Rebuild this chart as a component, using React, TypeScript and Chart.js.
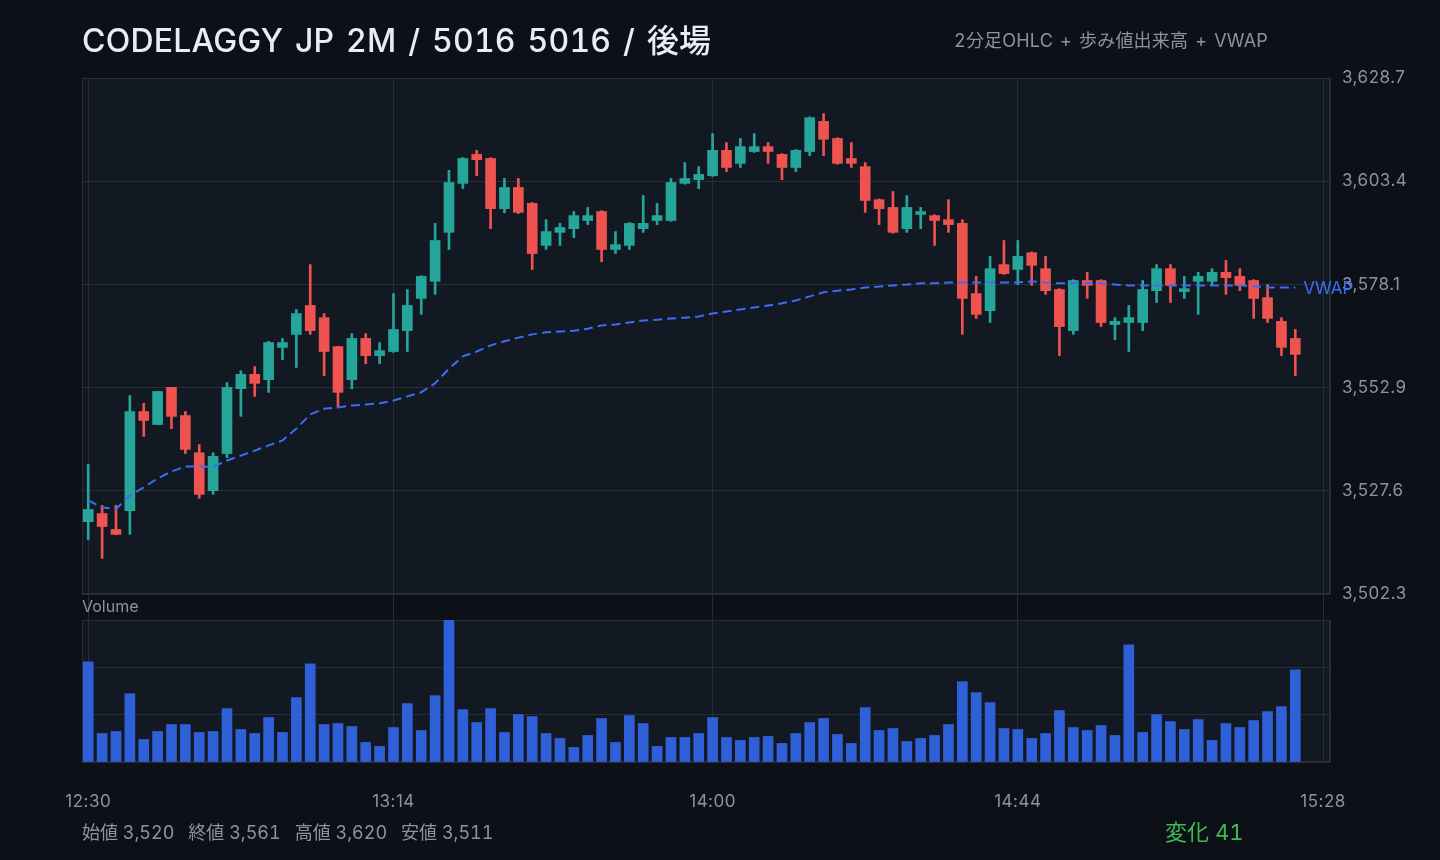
import React, { useEffect, useRef } from 'react';
import { Chart, registerables } from 'chart.js';

Chart.register(...registerables);

const TITLE = 'CODELAGGY JP 2M / 5016 5016 / 後場';
const SUBTITLE = '2分足OHLC + 歩み値出来高 + VWAP';
const VOLUME_LABEL = 'Volume';
const VWAP_LABEL = 'VWAP';
const STAT_NAMES = ['始値', '終値', '高値', '安値'];
const CHANGE_NAME = '変化';

const tickIndex = [0, 22, 45, 67, 89];
const tickLabels = ['12:30', '13:14', '14:00', '14:44', '15:28'];

const opens = [3520.0, 3522.0, 3518.1, 3522.7, 3547.0, 3543.8, 3552.9, 3546.0, 3536.9, 3527.6,
  3536.7, 3552.6, 3556.1, 3554.8, 3562.7, 3565.9, 3573.0, 3570.0, 3562.9, 3554.8,
  3564.9, 3560.7, 3561.7, 3566.8, 3574.7, 3578.9, 3590.9, 3602.9, 3610.0, 3609.0,
  3596.7, 3601.9, 3598.0, 3587.7, 3590.9, 3591.8, 3593.8, 3596.0, 3586.7, 3587.7,
  3591.8, 3593.8, 3593.8, 3602.9, 3603.8, 3604.8, 3611.0, 3607.8, 3610.7, 3611.9,
  3610.0, 3606.8, 3610.7, 3618.1, 3613.9, 3609.0, 3607.0, 3598.9, 3597.0, 3591.8,
  3595.3, 3595.0, 3594.0, 3593.1, 3575.9, 3571.7, 3583.0, 3581.8, 3585.9, 3582.0,
  3576.9, 3566.8, 3579.1, 3579.1, 3568.3, 3568.8, 3568.8, 3576.6, 3582.0, 3576.4,
  3578.9, 3578.9, 3581.1, 3580.1, 3579.1, 3574.9, 3569.1, 3564.9];

const highs = [3534.0, 3524.0, 3524.0, 3550.9, 3549.0, 3551.9, 3552.9, 3547.0, 3538.9, 3536.9,
  3554.1, 3557.0, 3558.0, 3564.2, 3564.9, 3572.0, 3583.0, 3571.0, 3563.0, 3566.1,
  3566.1, 3563.9, 3575.9, 3576.9, 3580.3, 3593.1, 3606.1, 3609.2, 3611.0, 3609.2,
  3604.1, 3604.1, 3598.2, 3594.0, 3593.1, 3596.0, 3597.0, 3596.2, 3591.1, 3593.3,
  3599.9, 3598.0, 3604.1, 3608.0, 3607.0, 3615.1, 3612.9, 3613.9, 3615.1, 3612.9,
  3610.2, 3611.2, 3619.2, 3620.0, 3614.1, 3612.9, 3608.0, 3599.1, 3600.9, 3599.9,
  3597.0, 3595.2, 3598.9, 3594.0, 3580.1, 3585.0, 3588.9, 3588.9, 3586.1, 3585.0,
  3577.1, 3579.3, 3581.1, 3579.3, 3570.0, 3573.0, 3579.1, 3583.0, 3583.0, 3580.1,
  3581.1, 3582.0, 3584.0, 3582.0, 3579.3, 3578.1, 3570.0, 3567.1];

const lows = [3515.6, 3511.0, 3516.8, 3516.9, 3540.9, 3543.8, 3542.8, 3536.7, 3525.7, 3526.7,
  3535.7, 3545.8, 3550.7, 3551.7, 3559.7, 3557.8, 3565.9, 3555.8, 3548.0, 3552.6,
  3558.7, 3558.7, 3561.5, 3561.7, 3570.8, 3575.7, 3586.7, 3601.6, 3604.8, 3591.8,
  3595.7, 3595.5, 3581.8, 3586.7, 3587.7, 3589.6, 3592.8, 3583.7, 3585.7, 3586.7,
  3590.9, 3592.8, 3593.6, 3602.7, 3601.6, 3604.6, 3605.8, 3606.8, 3610.5, 3607.8,
  3603.8, 3605.8, 3609.7, 3609.7, 3607.6, 3606.8, 3595.8, 3592.8, 3590.7, 3590.9,
  3591.8, 3587.7, 3590.9, 3565.9, 3569.8, 3568.8, 3580.6, 3578.1, 3577.9, 3575.7,
  3560.7, 3565.9, 3574.7, 3567.8, 3564.6, 3561.7, 3566.8, 3573.7, 3573.7, 3574.7,
  3570.8, 3577.9, 3575.7, 3576.6, 3569.8, 3568.8, 3560.7, 3555.8];

const closes = [3523.0, 3518.8, 3516.9, 3547.0, 3544.8, 3551.9, 3545.8, 3537.7, 3526.7, 3536.0,
  3552.9, 3556.1, 3553.9, 3563.9, 3563.9, 3571.0, 3566.8, 3561.7, 3551.7, 3564.9,
  3560.7, 3561.9, 3567.1, 3573.0, 3580.1, 3588.9, 3603.1, 3609.0, 3608.7, 3596.7,
  3601.9, 3595.8, 3585.7, 3591.1, 3592.1, 3595.0, 3595.0, 3586.7, 3587.9, 3593.1,
  3593.1, 3595.0, 3603.1, 3604.1, 3605.1, 3611.0, 3606.8, 3611.9, 3611.9, 3610.7,
  3606.8, 3611.0, 3619.0, 3613.7, 3607.8, 3607.8, 3598.7, 3596.7, 3590.9, 3597.0,
  3596.0, 3593.8, 3592.8, 3574.7, 3570.8, 3582.0, 3580.8, 3585.0, 3582.8, 3576.6,
  3567.8, 3579.1, 3577.9, 3568.8, 3569.1, 3570.0, 3576.9, 3582.0, 3577.9, 3577.1,
  3580.1, 3581.1, 3579.8, 3577.9, 3574.7, 3569.8, 3562.7, 3561.0];

const volumes = [30200, 8600, 9200, 20600, 6800, 9200, 11300, 11300, 8900, 9200,
  16100, 9800, 8600, 13400, 8900, 19400, 29600, 11300, 11600, 10700,
  5900, 4700, 10400, 17600, 9500, 20000, 42800, 15800, 11900, 16100,
  8900, 14300, 13700, 8600, 7100, 4400, 8000, 13100, 5900, 14000,
  11600, 4700, 7400, 7400, 8600, 13400, 7400, 6500, 7400, 7700,
  5600, 8600, 11900, 13100, 8300, 5600, 16400, 9500, 10100, 6200,
  7100, 8000, 11300, 24200, 20900, 17900, 10100, 9800, 7100, 8600,
  15500, 10400, 9500, 11000, 8000, 35300, 8900, 14300, 12200, 9800,
  12800, 6500, 11600, 10400, 12500, 15200, 16700, 27800];

const vwap = [3525.2, 3523.5, 3523.1, 3526.4, 3528.4, 3530.6, 3532.3, 3533.5, 3533.5, 3533.4,
  3535.0, 3536.2, 3537.4, 3538.7, 3539.9, 3542.8, 3546.3, 3547.7, 3548.0, 3548.5,
  3548.7, 3549.0, 3549.7, 3550.7, 3551.7, 3553.9, 3557.5, 3560.5, 3561.7, 3563.2,
  3564.2, 3565.1, 3565.9, 3566.4, 3566.6, 3566.8, 3567.3, 3568.1, 3568.3, 3568.8,
  3569.3, 3569.5, 3569.8, 3570.0, 3570.3, 3571.0, 3571.5, 3572.0, 3572.5, 3573.0,
  3573.5, 3574.2, 3575.2, 3576.2, 3576.6, 3576.9, 3577.4, 3577.6, 3577.9, 3578.1,
  3578.4, 3578.4, 3578.6, 3578.6, 3578.6, 3578.6, 3578.6, 3578.6, 3578.9, 3578.6,
  3578.4, 3578.4, 3578.4, 3578.4, 3578.1, 3577.9, 3577.9, 3577.9, 3577.9, 3577.9,
  3577.9, 3577.9, 3577.9, 3577.9, 3577.7, 3577.4, 3577.4, 3577.4];

const PAGE_BG = '#0d1117';
const PANEL_BG = '#121922';
const GRID = '#262e38';
const TEXT = '#8b949e';
const TITLE_COLOR = '#e6edf3';
const UP = '#26a69a';
const DOWN = '#ef5350';
const VOL_COLOR = '#2f60d8';
const VWAP_COLOR = '#3b6ef5';
const CHANGE_UP = '#3fb950';
const FONT = 'Inter, "Noto Sans CJK JP", sans-serif';

const fmtInt = (v: number) => Math.round(v).toLocaleString('en-US');
const fmt1 = (v: number) => v.toLocaleString('en-US', { minimumFractionDigits: 1, maximumFractionDigits: 1 });

const lo = Math.min(...lows);
const hi = Math.max(...highs);
const openV = opens[0];
const closeV = closes[closes.length - 1];
const statValues = [openV, closeV, hi, lo];
const change = Math.round(closeV - openV);

const textBase: React.CSSProperties = {
  position: 'absolute',
  whiteSpace: 'nowrap',
  fontFamily: FONT,
  fontVariantNumeric: 'tabular-nums',
  fontFeatureSettings: '"tnum" 1',
};

export default function App() {
  const ref = useRef<HTMLCanvasElement | null>(null);

  useEffect(() => {
    document.body.style.margin = '0';
    document.body.style.background = PAGE_BG;
    const canvas = ref.current;
    if (!canvas) return;

    const pad = (hi - lo) * 0.08;
    const volMax = Math.max(...volumes);
    const colors = opens.map((o, i) => (closes[i] >= o ? UP : DOWN));

    const panelPlugin = {
      id: 'panels',
      beforeDraw(chart: any) {
        const { ctx, chartArea } = chart;
        const ps = [chart.scales.yPrice, chart.scales.yVol];
        ctx.save();
        ctx.fillStyle = PANEL_BG;
        for (const s of ps) {
          ctx.fillRect(chartArea.left, s.top, chartArea.right - chartArea.left, s.bottom - s.top);
        }
        ctx.restore();
        (ctx as any).letterSpacing = '0.5px';
      },
      beforeDatasetsDraw(chart: any) {
        const { ctx, chartArea } = chart;
        (ctx as any).letterSpacing = '0px';
        const ps = [chart.scales.yPrice, chart.scales.yVol];
        ctx.save();
        ctx.strokeStyle = GRID;
        ctx.lineWidth = 1;
        for (const s of ps) {
          const l = Math.round(chartArea.left) + 0.5;
          const r = Math.round(chartArea.right) - 0.5;
          const t = Math.round(s.top) + 0.5;
          const b = Math.round(s.bottom) - 0.5;
          ctx.strokeRect(l, t, r - l, b - t);
        }
        ctx.restore();
      },
      afterDatasetsDraw(chart: any) {
        const { ctx } = chart;
        const meta = chart.getDatasetMeta(0);
        const pt = meta.data[meta.data.length - 1];
        ctx.save();
        ctx.fillStyle = VWAP_COLOR;
        ctx.font = `17px ${FONT}`;
        ctx.textAlign = 'left';
        ctx.textBaseline = 'middle';
        ctx.fillText(VWAP_LABEL, pt.x + 8, pt.y + 1);
        ctx.restore();
      },
      afterDraw(chart: any) {
        const { ctx, chartArea } = chart;
        const gap = chart.scales.yGap;
        ctx.save();
        ctx.fillStyle = TEXT;
        ctx.textAlign = 'left';
        ctx.textBaseline = 'middle';
        ctx.font = `16px ${FONT}`;
        ctx.fillText(VOLUME_LABEL, chartArea.left, (gap.top + gap.bottom) / 2);
        ctx.restore();
      },
    };

    const chart = new Chart(canvas, {
      type: 'bar',
      data: {
        datasets: [
          {
            type: 'line',
            label: 'VWAP',
            data: vwap.map((v, i) => ({ x: i, y: v })),
            xAxisID: 'x',
            yAxisID: 'yPrice',
            borderColor: VWAP_COLOR,
            borderWidth: 2,
            borderDash: [9, 5],
            pointRadius: 0,
            fill: false,
            tension: 0,
            order: 0,
          } as any,
          {
            type: 'bar',
            label: 'body',
            data: opens.map((o, i) => ({ x: i, y: [o, closes[i]] })),
            xAxisID: 'x',
            yAxisID: 'yPrice',
            backgroundColor: colors,
            barThickness: 10,
            grouped: false,
            order: 1,
          } as any,
          {
            type: 'bar',
            label: 'wick',
            data: lows.map((l, i) => ({ x: i, y: [l, highs[i]] })),
            xAxisID: 'x',
            yAxisID: 'yPrice',
            backgroundColor: colors,
            barThickness: 2,
            grouped: false,
            order: 2,
          } as any,
          {
            type: 'bar',
            label: 'Volume',
            data: volumes.map((v, i) => ({ x: i, y: v })),
            xAxisID: 'x',
            yAxisID: 'yVol',
            backgroundColor: VOL_COLOR,
            barThickness: 10,
            grouped: false,
            order: 3,
          } as any,
        ],
      },
      options: {
        animation: false,
        responsive: false,
        maintainAspectRatio: false,
        devicePixelRatio: 1,
        layout: { padding: { left: 82, top: 78, right: 0, bottom: 0 } },
        plugins: { legend: { display: false }, tooltip: { enabled: false } },
        scales: {
          x: {
            type: 'linear',
            position: 'bottom',
            min: -0.45,
            max: 89.5,
            offset: false,
            afterBuildTicks: (s: any) => {
              s.ticks = tickIndex.map((v) => ({ value: v }));
            },
            afterFit: (s: any) => {
              s.height = 98;
            },
            ticks: {
              autoSkip: false,
              maxRotation: 0,
              padding: 30,
              color: TEXT,
              font: { family: FONT, size: 17 },
              callback: (v: any) => {
                const k = tickIndex.indexOf(Number(v));
                return k >= 0 ? tickLabels[k] : '';
              },
            },
            grid: { color: GRID, drawTicks: false, offset: false },
            border: { display: true, color: GRID },
          },
          yPrice: {
            type: 'linear',
            position: 'right',
            stack: 'panes',
            stackWeight: 516,
            min: lo - pad,
            max: hi + pad,
            afterFit: (s: any) => {
              s.width = 110;
            },
            ticks: {
              count: 6,
              padding: 12,
              color: TEXT,
              font: { family: FONT, size: 17 },
              callback: (v: any) => fmt1(Number(v)),
            },
            grid: { color: GRID, drawTicks: false },
            border: { display: true, color: GRID },
          },
          yGap: {
            type: 'linear',
            position: 'right',
            stack: 'panes',
            stackWeight: 26,
            min: 0,
            max: 1,
            afterFit: (s: any) => {
              s.width = 110;
            },
            ticks: { display: false },
            grid: { display: false },
            border: { display: false },
          },
          yVol: {
            type: 'linear',
            position: 'right',
            stack: 'panes',
            stackWeight: 142,
            min: 0,
            max: volMax,
            afterFit: (s: any) => {
              s.width = 110;
            },
            ticks: { display: false, count: 4 },
            grid: { color: GRID, drawTicks: false },
            border: { display: true, color: GRID },
          },
        } as any,
      },
      plugins: [panelPlugin],
    } as any);

    return () => chart.destroy();
  }, []);

  return (
    <div style={{ position: 'relative', width: 1440, height: 860, background: PAGE_BG, overflow: 'hidden' }}>
      <canvas ref={ref} width={1440} height={860} style={{ display: 'block', width: 1440, height: 860 }} />
      <div
        style={{
          ...textBase,
          left: 82,
          top: 25,
          fontSize: 32,
          lineHeight: '32px',
          fontWeight: 500,
          letterSpacing: '0.2px',
          wordSpacing: '3px',
          color: TITLE_COLOR,
        }}
      >
        {TITLE}
      </div>
      <div
        style={{
          ...textBase,
          right: 172,
          top: 32,
          fontSize: 18,
          lineHeight: '18px',
          letterSpacing: '0.2px',
          wordSpacing: '2px',
          color: TEXT,
        }}
      >
        {SUBTITLE}
      </div>
      <div style={{ ...textBase, left: 82, top: 824, fontSize: 18, lineHeight: '18px', color: TEXT, display: 'flex', gap: 14 }}>
        {STAT_NAMES.map((n, i) => (
          <span key={n}>{`${n} ${fmtInt(statValues[i])}`}</span>
        ))}
      </div>
      <div style={{ ...textBase, left: 1165, top: 821, fontSize: 22, lineHeight: '22px', color: CHANGE_UP }}>
        {`${CHANGE_NAME} ${change}`}
      </div>
    </div>
  );
}
